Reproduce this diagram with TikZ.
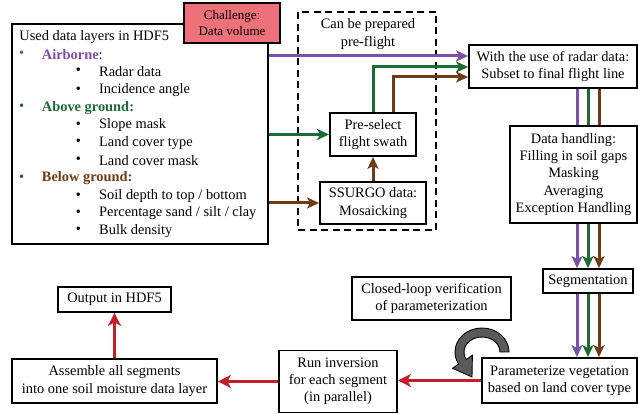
\documentclass[tikz,border=0pt]{standalone}
\usepackage{fontspec}
\setmainfont{Liberation Serif}
\usetikzlibrary{arrows.meta,calc}
\definecolor{cpur}{HTML}{7A4EAB}
\definecolor{cgrn}{HTML}{1D6B34}
\definecolor{cbrn}{HTML}{6E3B14}
\definecolor{cred}{HTML}{C41E2A}
\definecolor{cpink}{HTML}{EE7079}
\definecolor{cgray}{HTML}{5A5A5A}
\begin{document}
\begin{tikzpicture}[x=1pt,y=-1pt,
  font=\fontsize{14.4}{17.2}\selectfont,
  box/.style={draw, line width=1.8pt, fill=white, align=center, inner sep=0pt},
  txt/.style={anchor=west, inner sep=0pt},
  bul/.style={inner sep=0pt},
  lin/.style={line width=3pt},
  arr/.style={lin, -{Stealth[length=12pt,width=11pt,inset=3pt]}},
  rarr/.style={line width=3pt, draw=cred, -{Stealth[length=13pt,width=13pt,inset=3.5pt]}},
]
\useasboundingbox (0,0) rectangle (638,414);

% dashed pre-flight box
\node[draw, dash pattern=on 7pt off 4.5pt, line width=1.8pt, minimum width=138pt, minimum height=218pt, inner sep=0pt] (pre) at (367,121) {};
\node[align=center, inner sep=0pt] (pretxt) at (368,34) {Can be prepared\\pre-flight};

% left data box
\node[box, minimum width=256pt, minimum height=220pt] (big) at (140,134) {};
\node[txt] (l0) at (19.3,36.7) {Used data layers in HDF5};
\node[bul, text=cpur] (b1) at (21.7,54.3) {\textbullet};
\node[txt] (l1) at (41.7,54.3) {\textcolor{cpur}{\textbf{Airborne}}:};
\node[bul] (b11) at (78.3,71.7) {\textbullet};
\node[txt] (l11) at (99,71.7) {Radar data};
\node[bul] (b12) at (78.3,90) {\textbullet};
\node[txt] (l12) at (99,90) {Incidence angle};
\node[bul, text=cgrn] (b2) at (21.7,107.7) {\textbullet};
\node[txt, text=cgrn, font=\fontsize{14.4}{17.2}\selectfont\bfseries] (l2) at (41.7,107.7) {Above ground:};
\node[bul] (b21) at (78.3,125) {\textbullet};
\node[txt] (l21) at (99,125) {Slope mask};
\node[bul] (b22) at (78.3,142.7) {\textbullet};
\node[txt] (l22) at (99,142.7) {Land cover type};
\node[bul] (b23) at (78.3,160.7) {\textbullet};
\node[txt] (l23) at (99,160.7) {Land cover mask};
\node[bul, text=cbrn] (b3) at (21.7,178.3) {\textbullet};
\node[txt, text=cbrn, font=\fontsize{14.4}{17.2}\selectfont\bfseries] (l3) at (41.7,178.3) {Below ground:};
\node[bul] (b31) at (78.3,196) {\textbullet};
\node[txt] (l31) at (99,196) {Soil depth to top / bottom};
\node[bul] (b32) at (78.3,213.3) {\textbullet};
\node[txt] (l32) at (99,213.3) {Percentage sand / silt / clay};
\node[bul] (b33) at (78.3,230.7) {\textbullet};
\node[txt] (l33) at (99,230.7) {Bulk density};

% challenge
\node[box, fill=cpink, line width=2pt, minimum width=96pt, minimum height=40pt,
      font=\fontsize{13}{16.5}\selectfont] (chal) at (232,23) {Challenge:\\Data volume};

% process boxes
\node[box, minimum width=168pt, minimum height=43pt] (radar) at (553,66.5) {With the use of radar data:\\Subset to final flight line};
\node[box, minimum width=86pt, minimum height=43pt] (presel) at (373,134.5) {Pre-select\\flight swath};
\node[box, minimum width=106pt, minimum height=42pt] (ssurgo) at (373,203) {SSURGO data:\\Mosaicking};
\node[box, minimum width=127pt, minimum height=97pt] (handling) at (573.5,174.5) {Data handling:\\Filling in soil gaps\\Masking\\Averaging\\Exception Handling};
\node[box, minimum width=90pt, minimum height=24pt] (seg) at (588,281) {Segmentation};
\node[box, minimum width=155pt, minimum height=45pt] (param) at (559.5,380.5) {Parameterize vegetation\\based on land cover type};
\node[box, minimum width=159pt, minimum height=43pt] (closed) at (431.5,298.5) {Closed-loop verification\\of parameterization};
\node[box, minimum width=118pt, minimum height=62pt] (run) at (338,381.5) {Run inversion\\for each segment\\(in parallel)};
\node[box, minimum width=205pt, minimum height=44pt] (assemble) at (114.5,381) {Assemble all segments\\into one soil moisture data layer};
\node[box, minimum width=113pt, minimum height=25pt] (output) at (114.5,299.5) {Output in HDF5};

% inputs
\draw[arr, cpur] (big.east |- 0,56) -- (radar.west |- 0,56);
\draw[arr, cgrn] (big.east |- presel.west) -- (presel.west);
\draw[arr, cbrn] (big.east |- ssurgo.west) -- (ssurgo.west);
\draw[arr, cbrn] (ssurgo.north) -- (presel.south);
\draw[arr, cgrn] (presel.north) |- (radar.west |- 0,67);
\draw[arr, cbrn] (presel.north -| 393,0) |- (radar.west |- 0,77);

% vertical bundle
\draw[lin, cpur] (radar.south -| 577,0) -- (handling.north -| 577,0);
\draw[lin, cgrn] (radar.south -| 588,0) -- (handling.north -| 588,0);
\draw[lin, cbrn] (radar.south -| 599,0) -- (handling.north -| 599,0);
\draw[arr, cpur] (handling.south -| 577,0) -- (seg.north -| 577,0);
\draw[arr, cgrn] (handling.south -| 588,0) -- (seg.north -| 588,0);
\draw[arr, cbrn] (handling.south -| 599,0) -- (seg.north -| 599,0);
\draw[arr, cpur] (seg.south -| 577,0) -- (param.north -| 577,0);
\draw[arr, cgrn] (seg.south -| 588,0) -- (param.north -| 588,0);
\draw[arr, cbrn] (seg.south -| 599,0) -- (param.north -| 599,0);

% red flow
\draw[rarr] (param.west) -- (run.east |- param.west);
\draw[rarr] (run.west) -- (assemble.east |- run.west);
\draw[rarr] (assemble.north) -- (output.south);

% closed-loop curved arrow
\fill[cgray, draw=black, line width=0.9pt]
  (509,352) arc[start angle=0, end angle=-210, x radius=27, y radius=24]
  -- (452.6,368.3) -- (472,377) -- (472.4,355.2) -- (466.4,359.5)
  arc[start angle=-210, end angle=0, x radius=18, y radius=15]
  -- cycle;
\end{tikzpicture}
\end{document}
